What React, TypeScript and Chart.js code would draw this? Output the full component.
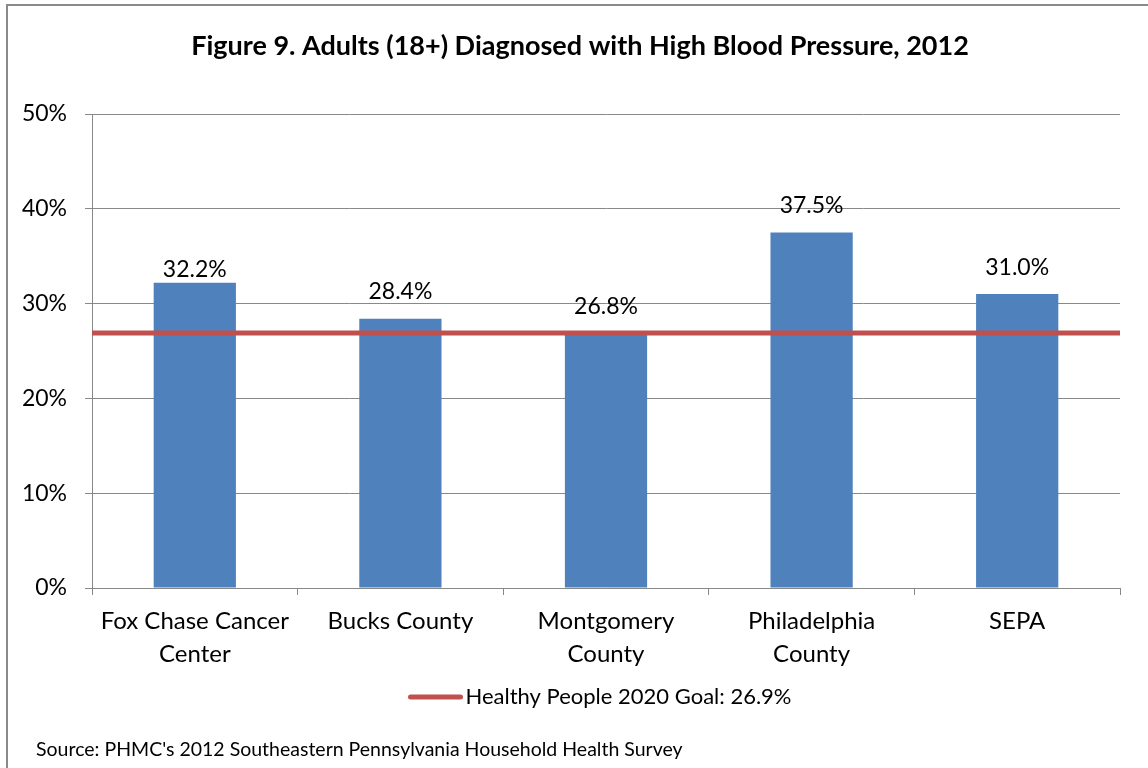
import React, { useEffect, useRef } from "react";
import { Chart, registerables } from "chart.js";

Chart.register(...registerables);

const TITLE = "Figure 9. Adults (18+) Diagnosed with High Blood Pressure, 2012";
const SOURCE = "Source: PHMC's 2012 Southeastern Pennsylvania Household Health Survey";
const CATEGORIES: (string | string[])[] = [
  ["Fox Chase Cancer", "Center"],
  "Bucks County",
  ["Montgomery", "County"],
  ["Philadelphia", "County"],
  "SEPA",
];
const VALUES = [32.2, 28.4, 26.8, 37.5, 31.0];
const GOAL = 26.9;
const GOAL_LABEL = "Healthy People 2020 Goal: 26.9%";
const Y_TICKS = [0, 10, 20, 30, 40, 50];

const FONT = "Lato, 'Open Sans', sans-serif";
const BAR_COLOR = "#4F81BD";
const GOAL_COLOR = "#C0504D";
const GRID_COLOR = "#888888";

const decorPlugin = {
  id: "decor",
  beforeDraw(chart: any) {
    const ctx = chart.ctx;
    ctx.save();
    ctx.fillStyle = "#ffffff";
    ctx.fillRect(0, 0, chart.width, chart.height);
    ctx.strokeStyle = "#8a8a8a";
    ctx.lineWidth = 2;
    ctx.strokeRect(7, 5, chart.width + 20, chart.height + 20);
    ctx.restore();
  },
  afterDatasetsDraw(chart: any) {
    const ctx = chart.ctx;
    const meta = chart.getDatasetMeta(0);
    const raise = [13, 27, 27, 27, 27];
    ctx.save();
    ctx.font = `23px ${FONT}`;
    ctx.fillStyle = "#000";
    ctx.textAlign = "center";
    ctx.textBaseline = "middle";
    meta.data.forEach((bar: any, i: number) => {
      const v = chart.data.datasets[0].data[i] as number;
      ctx.fillText(v.toFixed(1) + "%", bar.x, bar.y - raise[i]);
    });
    ctx.restore();
  },
  afterDraw(chart: any) {
    const ctx = chart.ctx;
    ctx.save();
    // title
    ctx.font = `bold 27px ${FONT}`;
    ctx.fillStyle = "#000";
    ctx.textAlign = "center";
    ctx.textBaseline = "middle";
    ctx.fillText(TITLE, 580, 46);
    // legend
    const ds = chart.data.datasets[1];
    ctx.font = `22px ${FONT}`;
    const tw = ctx.measureText(ds.label).width;
    const lineLen = 54;
    const gap = 3;
    const total = lineLen + gap + tw;
    const x0 = 600 - total / 2;
    const ly = 697;
    ctx.strokeStyle = ds.borderColor;
    ctx.lineWidth = 5;
    ctx.lineCap = "round";
    ctx.beginPath();
    ctx.moveTo(x0 + 2, ly);
    ctx.lineTo(x0 + lineLen - 2, ly);
    ctx.stroke();
    ctx.textAlign = "left";
    ctx.fillText(ds.label, x0 + lineLen + gap, ly);
    // source
    ctx.font = `19.5px ${FONT}`;
    ctx.fillText(SOURCE, 36, 750);
    ctx.restore();
  },
};

export default function App() {
  const ref = useRef<HTMLCanvasElement>(null);
  useEffect(() => {
    if (!ref.current) return;
    const chart = new Chart(ref.current, {
      type: "bar",
      data: {
        labels: CATEGORIES as any,
        datasets: [
          {
            type: "bar",
            label: "Adults diagnosed",
            data: VALUES,
            backgroundColor: BAR_COLOR,
            barPercentage: 0.4,
            categoryPercentage: 1.0,
            grouped: false,
            order: 2,
          } as any,
          {
            type: "line",
            label: GOAL_LABEL,
            data: [
              { x: 0, y: GOAL },
              { x: 1, y: GOAL },
            ],
            xAxisID: "x2",
            borderColor: GOAL_COLOR,
            borderWidth: 5,
            pointRadius: 0,
            order: 1,
          } as any,
        ],
      },
      options: {
        animation: false,
        responsive: false,
        devicePixelRatio: 1,
        layout: { padding: { left: 12, right: 28, top: 114, bottom: 100 } },
        plugins: {
          legend: { display: false },
          title: { display: false },
          tooltip: { enabled: false },
        },
        scales: {
          x: {
            type: "category",
            afterFit: (s: any) => {
              s.height = 80;
            },
            grid: {
              drawOnChartArea: false,
              drawTicks: true,
              tickLength: 7,
              color: GRID_COLOR,
              offset: true,
            },
            border: { color: GRID_COLOR },
            ticks: {
              color: "#000",
              padding: 10,
              maxRotation: 0,
              autoSkip: false,
              font: { family: FONT, size: 24, lineHeight: 1.375 },
            },
          },
          x2: {
            type: "linear",
            display: false,
            offset: false,
            min: 0,
            max: 1,
          },
          y: {
            min: 0,
            max: 50,
            afterFit: (s: any) => {
              s.width = 80;
            },
            afterBuildTicks: (s: any) => {
              s.ticks = Y_TICKS.map((v) => ({ value: v }));
            },
            grid: { color: GRID_COLOR, tickLength: 7 },
            border: { color: GRID_COLOR },
            ticks: {
              color: "#000",
              padding: 18,
              font: { family: FONT, size: 23 },
              callback: (v: any) => v + "%",
            },
          },
        },
      },
      plugins: [decorPlugin],
    });
    return () => chart.destroy();
  }, []);
  return (
    <div style={{ position: "absolute", left: 0, top: 0, width: 1148, height: 768 }}>
      <canvas ref={ref} width={1148} height={768} />
    </div>
  );
}
